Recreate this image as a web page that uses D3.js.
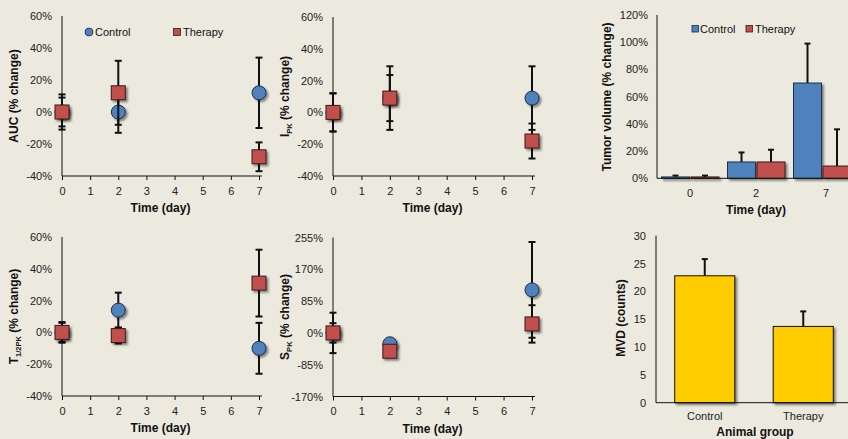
<!DOCTYPE html>
<html><head><meta charset="utf-8">
<script src="https://cdn.jsdelivr.net/npm/d3@7"></script>
<style>
html,body{margin:0;padding:0;background:#ECEADF;}
svg{display:block;font-family:"Liberation Sans",Arial,sans-serif;}
</style></head>
<body>
<svg id="chart" width="848" height="439"></svg>
<script>
// ---------- DATA ----------
const days = [0, 2, 7];
const dayTicks = [0, 1, 2, 3, 4, 5, 6, 7];
const seriesNames = ["Control", "Therapy"];

const aucControl = [0, 0, 12],      aucControlErr = [11, 13, 22];
const aucTherapy = [0, 12, -28],    aucTherapyErr = [9, 20, 9];
const ipkControl = [0, 9, 9],       ipkControlErr = [12, 14.5, 20];
const ipkTherapy = [0, 9, -18],     ipkTherapyErr = [12, 20, 11];
const thalfControl = [0, 14, -10],  thalfControlErr = [6.5, 11, 16];
const thalfTherapy = [0, -2, 31],   thalfTherapyErr = [6, 5, 21];
const spkControl = [0, -29, 115],   spkControlErr = [54, 10, 128];
const spkTherapy = [0, -49, 24],    spkTherapyErr = [26, 10, 50];

const pctTicks = [-40, -20, 0, 20, 40, 60];
const spkTicks = [-170, -85, 0, 85, 170, 255];

const tumorCategories = ["0", "2", "7"];
const tumorControl = [1, 12, 70],   tumorControlErr = [1, 7, 29];
const tumorTherapy = [1, 12, 9],    tumorTherapyErr = [1, 9, 27];
const tumorTicks = [0, 20, 40, 60, 80, 100, 120];

const mvdGroups = ["Control", "Therapy"];
const mvdValues = [22.8, 13.7];
const mvdErr = [3, 2.7];
const mvdTicks = [0, 5, 10, 15, 20, 25, 30];

// ---------- STYLE ----------
const BLUE = "#4F81BD", RED = "#C0504D", YELLOW = "#FFCC00";
const svg = d3.select("#chart");
const defs = svg.append("defs");
const f = defs.append("filter").attr("id", "shadow").attr("x", "-50%").attr("y", "-50%").attr("width", "200%").attr("height", "200%");
f.append("feDropShadow").attr("dx", 2).attr("dy", 2).attr("stdDeviation", 1.3).attr("flood-color", "#000").attr("flood-opacity", 0.45);

function yTitle(g, x, y, main, sub, rest) {
  const t = g.append("text").attr("transform", `translate(${x},${y}) rotate(-90)`)
    .attr("text-anchor", "middle").attr("font-size", 12).attr("font-weight", "bold").attr("fill", "#111");
  t.append("tspan").text(main);
  if (sub) t.append("tspan").attr("font-size", 7.5).attr("dy", 3).text(sub);
  t.append("tspan").attr("dy", sub ? -3 : 0).text(rest);
}

function scatterPanel(o) {
  const g = svg.append("g");
  const x = d3.scaleLinear().domain([0, 7]).range([o.x0, o.x1]);
  const y = d3.scaleLinear().domain([o.ticks[0], o.ticks[o.ticks.length - 1]]).range([o.y0, o.y1]);
  // y tick labels
  g.selectAll(".yl").data(o.ticks).join("text")
    .attr("x", o.x0 - 10).attr("y", d => y(d) + 4).attr("text-anchor", "end")
    .attr("font-size", 11).attr("fill", "#222").text(d => d + "%");
  // x axis
  const xa = g.append("g").attr("transform", `translate(0,${o.y0})`)
    .call(d3.axisBottom(x).tickValues(dayTicks).tickSize(4).tickSizeOuter(0).tickFormat(d3.format("d")));
  xa.select(".domain").attr("stroke", "#111").attr("d", `M${o.x0},0H${o.x1 + 3}`);
  xa.selectAll(".tick line").attr("stroke", "#111");
  xa.selectAll(".tick text").attr("font-size", 11).attr("fill", "#222").attr("dy", "1.05em")
    .attr("font-family", "Liberation Sans, Arial, sans-serif");
  // y axis line
  g.append("line").attr("x1", o.x0).attr("x2", o.x0).attr("y1", o.y1).attr("y2", o.y0).attr("stroke", "#111");
  // x title
  g.append("text").attr("x", (o.x0 + o.x1) / 2).attr("y", o.y0 + 36).attr("text-anchor", "middle")
    .attr("font-size", 12).attr("font-weight", "bold").attr("fill", "#111").text("Time (day)");
  yTitle(g, o.titleX, (o.y0 + o.y1) / 2, o.main, o.sub, " (% change)");

  const series = [
    {vals: o.control, errs: o.controlErr, shape: "circle"},
    {vals: o.therapy, errs: o.therapyErr, shape: "square"}
  ];
  series.forEach(s => {
    const pts = days.map((d, i) => ({d, v: s.vals[i], e: s.errs[i]}));
    const eg = g.append("g").attr("stroke", "#111").attr("stroke-width", 2);
    eg.selectAll(".ev").data(pts).join("line")
      .attr("x1", p => x(p.d)).attr("x2", p => x(p.d))
      .attr("y1", p => y(p.v - p.e)).attr("y2", p => y(p.v + p.e));
    ["+", "-"].forEach(sg => {
      eg.selectAll(".cap" + (sg === "+" ? "p" : "m")).data(pts).join("line")
        .attr("x1", p => x(p.d) - 3.5).attr("x2", p => x(p.d) + 3.5)
        .attr("y1", p => y(sg === "+" ? p.v + p.e : p.v - p.e))
        .attr("y2", p => y(sg === "+" ? p.v + p.e : p.v - p.e));
    });
    const mg = g.append("g").attr("filter", "url(#shadow)");
    if (s.shape === "circle") {
      mg.selectAll("circle").data(pts).join("circle")
        .attr("cx", p => x(p.d)).attr("cy", p => y(p.v)).attr("r", 7)
        .attr("fill", BLUE).attr("stroke", "#1c2f48").attr("stroke-width", 1);
    } else {
      mg.selectAll("rect").data(pts).join("rect")
        .attr("x", p => x(p.d) - 7).attr("y", p => y(p.v) - 7).attr("width", 14).attr("height", 14)
        .attr("fill", RED).attr("stroke", "#3a1a18").attr("stroke-width", 1);
    }
  });
  return {g, x, y};
}

// Panel 1: AUC
const p1 = scatterPanel({x0: 62, x1: 259, y0: 176, y1: 16, ticks: pctTicks,
  control: aucControl, controlErr: aucControlErr, therapy: aucTherapy, therapyErr: aucTherapyErr,
  titleX: 18, main: "AUC", sub: null});
// legend
const lg = p1.g.append("g").attr("font-size", 11).attr("fill", "#111");
lg.append("circle").attr("cx", 89).attr("cy", 32).attr("r", 4).attr("fill", BLUE).attr("stroke", "#1c2f48").attr("stroke-width", 0.8);
lg.append("text").attr("x", 95).attr("y", 36).text(seriesNames[0]);
lg.append("rect").attr("x", 173.5).attr("y", 28.5).attr("width", 7).attr("height", 7).attr("fill", RED).attr("stroke", "#3a1a18").attr("stroke-width", 0.8);
lg.append("text").attr("x", 183).attr("y", 36).text(seriesNames[1]);

// Panel 2: IPK
scatterPanel({x0: 333, x1: 532, y0: 176, y1: 17, ticks: pctTicks,
  control: ipkControl, controlErr: ipkControlErr, therapy: ipkTherapy, therapyErr: ipkTherapyErr,
  titleX: 289, main: "I", sub: "PK"});

// Panel 4: T1/2PK
scatterPanel({x0: 62, x1: 259, y0: 396, y1: 237, ticks: pctTicks,
  control: thalfControl, controlErr: thalfControlErr, therapy: thalfTherapy, therapyErr: thalfTherapyErr,
  titleX: 18, main: "T", sub: "1/2PK"});

// Panel 5: SPK
scatterPanel({x0: 333, x1: 532, y0: 396.5, y1: 237.5, ticks: spkTicks,
  control: spkControl, controlErr: spkControlErr, therapy: spkTherapy, therapyErr: spkTherapyErr,
  titleX: 289, main: "S", sub: "PK"});

// Panel 3: Tumor volume bar chart
(function () {
  const g = svg.append("g");
  const x0 = 657, y0 = 178.3, y1 = 15;
  const x = d3.scaleBand().domain(tumorCategories).range([x0, x0 + 198]).padding(0);
  const xs = d3.scaleBand().domain(seriesNames).range([4.5, 62]).paddingInner(0.05);
  const y = d3.scaleLinear().domain([0, 120]).range([y0, y1]);
  g.selectAll(".yl").data(tumorTicks).join("text")
    .attr("x", x0 - 9).attr("y", d => y(d) + 4).attr("text-anchor", "end")
    .attr("font-size", 11).attr("fill", "#222").text(d => d + "%");
  const data = [];
  tumorCategories.forEach((c, i) => {
    data.push({c, s: "Control", v: tumorControl[i], e: tumorControlErr[i], col: BLUE, st: "#1c2f48"});
    data.push({c, s: "Therapy", v: tumorTherapy[i], e: tumorTherapyErr[i], col: RED, st: "#3a1a18"});
  });
  const eg = g.append("g").attr("stroke", "#111").attr("stroke-width", 2);
  eg.selectAll(".ev").data(data).join("line")
    .attr("x1", d => x(d.c) + xs(d.s) + xs.bandwidth() / 2).attr("x2", d => x(d.c) + xs(d.s) + xs.bandwidth() / 2)
    .attr("y1", d => y(d.v)).attr("y2", d => y(d.v + d.e));
  eg.selectAll(".cap").data(data).join("line")
    .attr("x1", d => x(d.c) + xs(d.s) + xs.bandwidth() / 2 - 3).attr("x2", d => x(d.c) + xs(d.s) + xs.bandwidth() / 2 + 3)
    .attr("y1", d => y(d.v + d.e)).attr("y2", d => y(d.v + d.e));
  g.append("g").attr("filter", "url(#shadow)").selectAll("rect").data(data).join("rect")
    .attr("x", d => x(d.c) + xs(d.s)).attr("width", xs.bandwidth())
    .attr("y", d => y(d.v)).attr("height", d => y(0) - y(d.v))
    .attr("fill", d => d.col).attr("stroke", d => d.st).attr("stroke-width", 1);
  g.append("line").attr("x1", x0).attr("x2", 848).attr("y1", y0).attr("y2", y0).attr("stroke", "#111");
  g.append("line").attr("x1", x0).attr("x2", x0).attr("y1", y1).attr("y2", y0).attr("stroke", "#111");
  g.selectAll(".xl").data(tumorCategories).join("text")
    .attr("x", d => x(d) + x.bandwidth() / 2 + (d === "7" ? 4 : 0)).attr("y", y0 + 19).attr("text-anchor", "middle")
    .attr("font-size", 11).attr("fill", "#222").text(d => d);
  g.append("text").attr("x", 756).attr("y", y0 + 36).attr("text-anchor", "middle")
    .attr("font-size", 12).attr("font-weight", "bold").attr("fill", "#111").text("Time (day)");
  yTitle(g, 611, 97, "Tumor volume", null, " (% change)");
  const lg = g.append("g").attr("font-size", 11).attr("fill", "#111");
  lg.append("rect").attr("x", 692).attr("y", 25.5).attr("width", 6.5).attr("height", 6.5).attr("fill", BLUE).attr("stroke", "#1c2f48").attr("stroke-width", 0.8);
  lg.append("text").attr("x", 700).attr("y", 33).text(seriesNames[0]);
  lg.append("rect").attr("x", 746).attr("y", 25.5).attr("width", 6.5).attr("height", 6.5).attr("fill", RED).attr("stroke", "#3a1a18").attr("stroke-width", 0.8);
  lg.append("text").attr("x", 755).attr("y", 33).text(seriesNames[1]);
})();

// Panel 6: MVD
(function () {
  const g = svg.append("g");
  const x0 = 656, y0 = 402.7, y1 = 235.7;
  const x = d3.scaleBand().domain(mvdGroups).range([x0, x0 + 196]).paddingInner(0.39).paddingOuter(0.19);
  const y = d3.scaleLinear().domain([0, 30]).range([y0, y1]);
  g.selectAll(".yl").data(mvdTicks).join("text")
    .attr("x", x0 - 10).attr("y", d => y(d) + 4).attr("text-anchor", "end")
    .attr("font-size", 11).attr("fill", "#222").text(d => d);
  const data = mvdGroups.map((c, i) => ({c, v: mvdValues[i], e: mvdErr[i]}));
  const eg = g.append("g").attr("stroke", "#111").attr("stroke-width", 2);
  eg.selectAll(".ev").data(data).join("line")
    .attr("x1", d => x(d.c) + x.bandwidth() / 2).attr("x2", d => x(d.c) + x.bandwidth() / 2)
    .attr("y1", d => y(d.v)).attr("y2", d => y(d.v + d.e));
  eg.selectAll(".cap").data(data).join("line")
    .attr("x1", d => x(d.c) + x.bandwidth() / 2 - 3).attr("x2", d => x(d.c) + x.bandwidth() / 2 + 3)
    .attr("y1", d => y(d.v + d.e)).attr("y2", d => y(d.v + d.e));
  g.append("g").attr("filter", "url(#shadow)").selectAll("rect").data(data).join("rect")
    .attr("x", d => x(d.c)).attr("width", x.bandwidth())
    .attr("y", d => y(d.v)).attr("height", d => y(0) - y(d.v))
    .attr("fill", YELLOW).attr("stroke", "#111").attr("stroke-width", 1);
  g.append("line").attr("x1", x0).attr("x2", 848).attr("y1", y0).attr("y2", y0).attr("stroke", "#111");
  g.append("line").attr("x1", x0).attr("x2", x0).attr("y1", y1).attr("y2", y0).attr("stroke", "#111");
  g.selectAll(".xl").data(mvdGroups).join("text")
    .attr("x", d => x(d) + x.bandwidth() / 2).attr("y", y0 + 17).attr("text-anchor", "middle")
    .attr("font-size", 11).attr("fill", "#222").text(d => d);
  g.append("text").attr("x", 755).attr("y", y0 + 33).attr("text-anchor", "middle")
    .attr("font-size", 12).attr("font-weight", "bold").attr("fill", "#111").text("Animal group");
  yTitle(g, 625, 318, "MVD", null, " (counts)");
})();
</script>
</body></html>
